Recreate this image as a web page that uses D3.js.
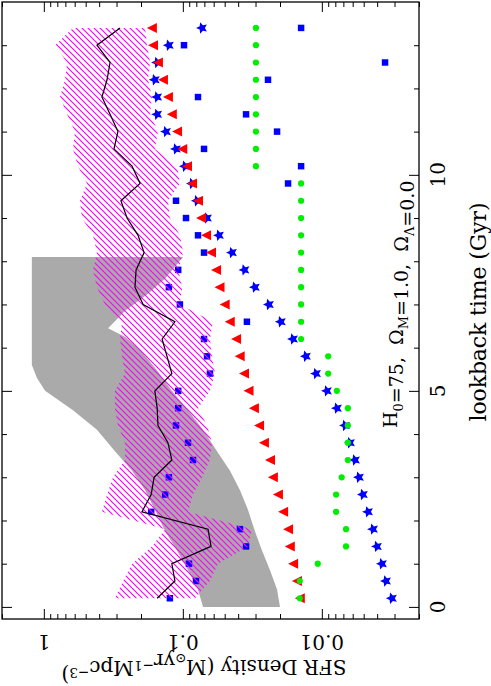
<!DOCTYPE html>
<html>
<head>
<meta charset="utf-8">
<script src="https://cdn.jsdelivr.net/npm/d3@7"></script>
<style>
  body { margin: 0; background: #fff; }
  text { font-family: "DejaVu Serif", serif; fill: #000; white-space: pre; }
</style>
</head>
<body>
<div id="chart"></div>
<script>
const width = 491;
const height = 686;

// lookback time bins (Gyr)
const lookback = [0.2, 0.6, 1.0, 1.4, 1.8, 2.2, 2.6, 3.0, 3.4, 3.8, 4.2, 4.6, 5.0, 5.4, 5.8, 6.2, 6.6,
	7.0, 7.4, 7.8, 8.2, 8.6, 9.0, 9.4, 9.8, 10.2, 10.6, 11.0, 11.4, 11.8, 12.2, 12.6, 13.0, 13.4];

// SFR densities (Msun/yr/Mpc^3) per bin
const squares = [0.124, 0.0804, 0.0903, 0.0351, 0.0388, 0.169, 0.134, 0.126, 0.0845, 0.0918,
	0.112, 0.108, 0.108, 0.0638, 0.067, 0.0704, 0.0346, 0.105, 0.126, 0.108,
	0.0704, 0.0778, 0.0949, 0.112, 0.0175, 0.0141, 0.0704, 0.021, 0.0351, 0.0778,
	0.0244, 0.00351, 0.0981, 0.0141];
const triangles = [0.0144, 0.0151, 0.0161, 0.017, 0.0175, 0.019, 0.0207, 0.0225, 0.0236, 0.0261,
	0.0283, 0.0308, 0.0337, 0.0363, 0.039, 0.0414, 0.046, 0.05, 0.0545, 0.0577,
	0.0627, 0.0681, 0.074, 0.0778, 0.0859, 0.0933, 0.101, 0.11, 0.12, 0.128,
	0.139, 0.151, 0.164, 0.167];
const stars = [0.00313, 0.00345, 0.00369, 0.00401, 0.00428, 0.00465, 0.00506, 0.0054, 0.00577, 0.00627,
	0.00681, 0.00778, 0.00918, 0.011, 0.013, 0.0161, 0.0197, 0.024, 0.0303, 0.036,
	0.0443, 0.0549, 0.067, 0.0791, 0.0859, 0.0965, 0.112, 0.132, 0.153, 0.153,
	0.159, 0.153, 0.126, 0.0728];
const circles = [0.0144, 0.0144, 0.0107, 0.0067, 0.0067, 0.0079, 0.0079, 0.0072, 0.0065, 0.0065,
	0.0065, 0.0065, 0.0078, 0.009, 0.009, 0.0141, 0.0141, 0.0141, 0.0141, 0.0141,
	0.0141, 0.0141, 0.0141, 0.0141, 0.0141, 0.0298, 0.0298, 0.0298, 0.0298, 0.0298,
	0.0298, 0.0298, 0.0298, 0.0298];
const median = [0.153, 0.114, 0.12, 0.0627, 0.0659, 0.197, 0.169, 0.161, 0.12, 0.128,
	0.151, 0.153, 0.159, 0.12, 0.13, 0.141, 0.114, 0.193, 0.221, 0.217,
	0.19, 0.21, 0.252, 0.279, 0.203, 0.232, 0.313, 0.293, 0.334, 0.382,
	0.351, 0.334, 0.415, 0.283];

// hatched range (upper / lower edge per bin)
const hatchHigh = [0.308, 0.269, 0.232, 0.167, 0.134, 0.382, 0.351, 0.318, 0.261, 0.261,
	0.293, 0.308, 0.308, 0.261, 0.274, 0.283, 0.274, 0.363, 0.415, 0.443,
	0.415, 0.443, 0.532, 0.55, 0.489, 0.568, 0.617, 0.597, 0.681, 0.765,
	0.704, 0.681, 0.831, 0.617];
const hatchLow = [0.0817, 0.0638, 0.0558, 0.034, 0.0318, 0.0918, 0.0845, 0.0728, 0.0638, 0.0617,
	0.067, 0.0778, 0.0638, 0.0587, 0.0617, 0.0638, 0.0607, 0.105, 0.101, 0.108,
	0.0997, 0.105, 0.124, 0.128, 0.105, 0.11, 0.159, 0.151, 0.172, 0.167,
	0.178, 0.172, 0.181, 0.187];

// grey band edges
const greyTopT = [8.1, 5.6, 5.3, 5.0, 4.55, 4.1, 3.6, 3.15, 2.7, 2.25, 1.75, 1.3, 0.85, 0.4, 0.0];
const greyTop = [1.22, 1.22, 1.12, 0.98, 0.617, 0.415, 0.308, 0.232, 0.187, 0.159, 0.134, 0.11, 0.0918, 0.0778, 0.0716];
const greyBotT = [0.0, 0.4, 0.85, 1.3, 1.75, 2.25, 2.7, 3.15, 3.6, 4.1, 4.55, 5.0, 5.45, 5.95, 6.25, 6.45, 6.85, 7.25, 7.6, 8.1];
const greyBot = [0.02, 0.021, 0.0236, 0.0269, 0.0303, 0.034, 0.0388, 0.0458, 0.0568, 0.0716,
	0.0918, 0.12, 0.151, 0.203, 0.261, 0.345, 0.261, 0.178, 0.134, 0.0997];

const timeMajor = [0, 5, 10];
const timeMinor = [1, 2, 3, 4, 6, 7, 8, 9, 11, 12, 13];
const densMajor = [1, 0.1, 0.01];
const densLabels = ["1", "0.1", "0.01"];

const svg = d3
	.select("#chart")
	.append("svg")
	.attr("width", width)
	.attr("height", height);

// figure is drawn rotated: time runs up the page, density decreases to the right
const y = d3.scaleLinear().domain([-0.28, 14]).range([619, 2]);
const x = d3.scaleLog().domain([2, 0.002]).range([2, 419]);

// diagonal hatch, 6px repeat
const defs = svg.append("defs");
const pat = defs
	.append("pattern")
	.attr("id", "hatch")
	.attr("patternUnits", "userSpaceOnUse")
	.attr("width", 6)
	.attr("height", 6);
pat.append("path")
	.attr("d", "M-1,-1L7,7M-1,5L1,7M5,-1L7,1")
	.attr("stroke", "#ff00ff")
	.attr("stroke-width", 1.2);

const line = d3.line().x(d => d[0]).y(d => d[1]);

// grey band
const greyPts = greyTopT.map((t, i) => [x(greyTop[i]), y(t)])
	.concat(greyBotT.map((t, i) => [x(greyBot[i]), y(t)]));
svg.append("path")
	.attr("d", line(greyPts) + "Z")
	.attr("fill", "#aaaaaa");

// blue squares
svg.append("g")
	.selectAll("path")
	.data(lookback)
	.enter()
	.append("path")
	.attr("transform", (t, i) => `translate(${x(squares[i])},${y(t)})`)
	.attr("d", d3.symbol().type(d3.symbolSquare).size(42))
	.attr("fill", "#0000ff");

// hatched band
const hatchPts = lookback.map((t, i) => [x(hatchHigh[i]), y(t)])
	.concat(lookback.slice().reverse().map((t, i) => [x(hatchLow[lookback.length - 1 - i]), y(t)]));
svg.append("path")
	.attr("d", line(hatchPts) + "Z")
	.attr("fill", "url(#hatch)");

// median line
svg.append("path")
	.attr("d", line(lookback.map((t, i) => [x(median[i]), y(t)])))
	.attr("fill", "none")
	.attr("stroke", "#000")
	.attr("stroke-width", 1.2);

// stars, pointing left because the plot is rotated
const fatStar = {
	draw(ctx, size) {
		const ro = Math.sqrt(size) / 2;
		const ri = ro * 0.48;
		for (let k = 0; k < 10; k++) {
			const r = k % 2 ? ri : ro;
			const a = Math.PI + k * Math.PI / 5;
			const px = r * Math.cos(a), py = r * Math.sin(a);
			if (k === 0) ctx.moveTo(px, py); else ctx.lineTo(px, py);
		}
		ctx.closePath();
	}
};
svg.append("g")
	.selectAll("path")
	.data(lookback)
	.enter()
	.append("path")
	.attr("transform", (t, i) => `translate(${x(stars[i])},${y(t)})`)
	.attr("d", d3.symbol().type(fatStar).size(144))
	.attr("fill", "#0000ff");

// triangles
const triLeft = {
	draw(ctx, size) {
		const r = Math.sqrt(size) / 2;
		ctx.moveTo(-r, 0);
		ctx.lineTo(r, -r);
		ctx.lineTo(r, r);
		ctx.closePath();
	}
};
svg.append("g")
	.selectAll("path")
	.data(lookback)
	.enter()
	.append("path")
	.attr("transform", (t, i) => `translate(${x(triangles[i])},${y(t)})`)
	.attr("d", d3.symbol().type(triLeft).size(100))
	.attr("fill", "#ff0000");

// green circles
svg.append("g")
	.selectAll("circle")
	.data(lookback)
	.enter()
	.append("circle")
	.attr("cx", (t, i) => x(circles[i]))
	.attr("cy", t => y(t))
	.attr("r", 3.1)
	.attr("fill", "#00ee00");

// frame
svg.append("rect")
	.attr("x", 2).attr("y", 2)
	.attr("width", 417).attr("height", 617)
	.attr("fill", "none")
	.attr("stroke", "#000")
	.attr("stroke-width", 1.3);

// ticks on all four sides, pointing inward
function tickAxis(axis, tr) {
	const g = svg.append("g").attr("transform", tr).call(axis);
	g.select(".domain").remove();
	g.selectAll("line").attr("stroke", "#000");
}
const densMinor = x.ticks().filter(v => Math.abs(Math.log10(v) - Math.round(Math.log10(v))) > 1e-6);
tickAxis(d3.axisRight(y).tickValues(timeMinor).tickSize(5).tickFormat(""), "translate(2,0)");
tickAxis(d3.axisRight(y).tickValues(timeMajor).tickSize(10).tickFormat(""), "translate(2,0)");
tickAxis(d3.axisLeft(y).tickValues(timeMinor).tickSize(5).tickFormat(""), "translate(419,0)");
tickAxis(d3.axisLeft(y).tickValues(timeMajor).tickSize(10).tickFormat(""), "translate(419,0)");
tickAxis(d3.axisBottom(x).tickValues(densMinor).tickSize(5).tickFormat(""), "translate(0,2)");
tickAxis(d3.axisBottom(x).tickValues(densMajor).tickSize(10).tickFormat(""), "translate(0,2)");
tickAxis(d3.axisTop(x).tickValues(densMinor).tickSize(5).tickFormat(""), "translate(0,619)");
tickAxis(d3.axisTop(x).tickValues(densMajor).tickSize(10).tickFormat(""), "translate(0,619)");

// tick labels
svg.append("g")
	.selectAll("text")
	.data(timeMajor)
	.enter()
	.append("text")
	.attr("transform", d => `translate(445,${y(d)}) rotate(-90)`)
	.attr("text-anchor", "middle")
	.style("font-size", "20px")
	.text(d => d);

svg.append("g")
	.selectAll("text")
	.data(densMajor)
	.enter()
	.append("text")
	.attr("transform", d => `translate(${x(d)},635) rotate(180)`)
	.attr("text-anchor", "middle")
	.style("font-size", "20px")
	.text((d, i) => densLabels[i]);

// rich text helper: parts with optional sub / sup
function richText(el, parts, size) {
	parts.forEach(p => {
		const small = p.sub || p.sup;
		const shift = p.sub ? size * 0.3 : p.sup ? -size * 0.36 : 0;
		el.append("tspan")
			.attr("dy", shift)
			.style("font-size", (small ? size * 0.68 : size) + "px")
			.text(p.t);
		if (shift) el.append("tspan").attr("dy", -shift).text("");
	});
}

svg.append("text")
	.attr("transform", "translate(486,312) rotate(-90)")
	.attr("text-anchor", "middle")
	.attr("textLength", 219)
	.attr("lengthAdjust", "spacing")
	.style("font-size", "22px")
	.text("lookback time (Gyr)");

const ylab = svg.append("text")
	.attr("transform", "translate(204,660) rotate(180)")
	.attr("text-anchor", "middle")
	.style("font-size", "20px");
richText(ylab, [
	{ t: "SFR Density (M" }, { t: "\u2299", sub: true }, { t: "yr" }, { t: "\u22121", sup: true },
	{ t: "Mpc" }, { t: "\u22123", sup: true }, { t: ")" }
], 20);

const note = svg.append("text")
	.attr("transform", "translate(397,428) rotate(-90)")
	.attr("text-anchor", "start")
	.style("font-size", "19px");
richText(note, [
	{ t: "H" }, { t: "0", sub: true }, { t: "=75,  \u03A9" }, { t: "M", sub: true },
	{ t: "=1.0,  \u03A9" }, { t: "\u039B", sub: true }, { t: "=0.0" }
], 19);
</script>
</body>
</html>
